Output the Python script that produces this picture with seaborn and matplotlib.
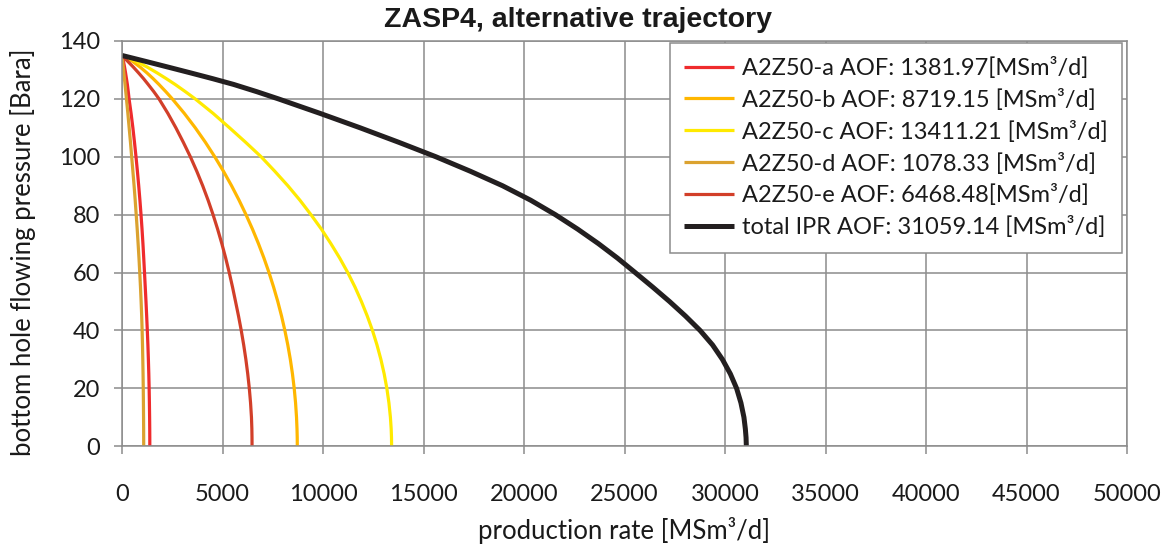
import matplotlib
matplotlib.use("Agg")
import matplotlib.pyplot as plt
import seaborn as sns
import pandas as pd

# Bottom hole flowing pressure levels [Bara]
pressure = [135, 133, 131, 129, 127, 125, 122.5, 120, 115, 110, 105, 100, 95, 90, 85, 80,
            75, 70, 65, 60, 55, 50, 45, 40, 35, 30, 25, 20, 15, 10, 6, 3, 0]

# Production rate at each pressure level [MSm³/d]
rate_a = [0, 70, 125, 175, 220, 265, 310, 350, 450, 540, 620, 695, 765, 830, 890, 945,
          995, 1040, 1080, 1118, 1155, 1192, 1226, 1258, 1287, 1311, 1332, 1349, 1362, 1372, 1378, 1381, 1381.97]
rate_b = [0, 518, 898, 1236, 1546, 1836, 2178, 2501, 3098, 3645, 4148, 4613, 5047, 5449, 5822, 6168,
          6490, 6787, 7061, 7312, 7540, 7749, 7935, 8101, 8247, 8373, 8479, 8566, 8633, 8681, 8705, 8716, 8719.15]
rate_c = [0, 700, 1250, 1740, 2200, 2640, 3150, 3640, 4530, 5350, 6150, 6920, 7600, 8250, 8850, 9400,
          9920, 10390, 10830, 11230, 11590, 11910, 12200, 12460, 12684, 12879, 13042, 13175, 13278, 13352, 13390, 13406, 13411.21]
rate_d = [0, 30, 60, 90, 120, 150, 185, 220, 290, 355, 420, 480, 540, 600, 655, 705,
          755, 800, 843, 882, 918, 950, 978, 1000, 1018, 1033, 1046, 1056, 1064, 1071, 1075, 1077, 1078.33]
rate_e = [0, 280, 560, 820, 1070, 1300, 1580, 1840, 2280, 2680, 3050, 3400, 3719, 4013, 4282, 4529,
          4756, 4965, 5157, 5334, 5497, 5647, 5795, 5931, 6053, 6161, 6254, 6332, 6394, 6439, 6459, 6466, 6468.48]
rate_total = [0, 1150, 2280, 3400, 4500, 5550, 6700, 7780, 9850, 11850, 13770, 15620, 17330, 18930, 20330, 21560,
              22670, 23700, 24650, 25530, 26400, 27240, 28030, 28760, 29380, 29870, 30265, 30575, 30790, 30940, 31010, 31045, 31059.14]

labels = [
    "A2Z50-a AOF: 1381.97[MSm³/d]",
    "A2Z50-b AOF: 8719.15 [MSm³/d]",
    "A2Z50-c AOF: 13411.21 [MSm³/d]",
    "A2Z50-d AOF: 1078.33 [MSm³/d]",
    "A2Z50-e AOF: 6468.48[MSm³/d]",
    "total IPR AOF: 31059.14 [MSm³/d]",
]
colors = ["#EF2B2D", "#FFB700", "#FFEA00", "#DBA22F", "#D23F29", "#231F20"]
widths = [2.3, 2.3, 2.3, 2.3, 2.3, 3.6]

x_ticks = list(range(0, 50001, 5000))
y_ticks = list(range(0, 141, 20))

sns.set_theme(style="whitegrid")
plt.rcParams["font.family"] = ["Lato", "DejaVu Sans"]

fig = plt.figure(figsize=(11.7, 5.48), dpi=100)
ax = fig.add_axes([0.1043, 0.1856, 0.8590, 0.7396])

series = [rate_a, rate_b, rate_c, rate_d, rate_e, rate_total]
for rates, lab, col, lw in zip(series, labels, colors, widths):
    df = pd.DataFrame({"rate": rates, "pressure": pressure})
    sns.lineplot(data=df, x="rate", y="pressure", sort=False, estimator=None,
                 color=col, linewidth=lw, label=lab, ax=ax,
                 solid_capstyle="butt", solid_joinstyle="round")

grid_col = "#8C8C8C"
text_col = "#1A1A1A"
ax.set_xlim(0, 50000)
ax.set_ylim(0, 140)
ax.set_xticks(x_ticks)
ax.set_yticks(y_ticks)
ax.grid(True, color=grid_col, linewidth=1.1)
ax.set_axisbelow(True)
for s in ax.spines.values():
    s.set_color(grid_col)
    s.set_linewidth(1.1)
ax.tick_params(axis="both", which="major", direction="out", length=6,
               width=1.1, color=grid_col, labelsize=17, labelcolor=text_col)
ax.tick_params(axis="x", pad=21, bottom=True)
ax.tick_params(axis="y", pad=10, left=True)

ax.set_xlabel("production rate [MSm³/d]", fontsize=18.5, color=text_col)
ax.set_ylabel("bottom hole flowing pressure [Bara]", fontsize=18.5, color=text_col)
ax.xaxis.set_label_coords(0.5, -0.175)
ax.yaxis.set_label_coords(-0.086, 0.479)

fig.suptitle("ZASP4, alternative trajectory", x=0.494, y=0.988,
             fontsize=20.5, fontweight="bold", family=["Liberation Sans", "DejaVu Sans"],
             color=text_col)

leg = ax.legend(loc="upper right", bbox_to_anchor=(0.995, 0.996), borderaxespad=0,
                fontsize=17, frameon=True, fancybox=False, framealpha=1,
                handlelength=2.1, handletextpad=0.35, labelspacing=0.42,
                borderpad=0.6)
leg.get_frame().set_edgecolor(grid_col)
leg.get_frame().set_linewidth(1.1)
for t in leg.get_texts():
    t.set_color(text_col)

fig.savefig("out.png", dpi=100)
